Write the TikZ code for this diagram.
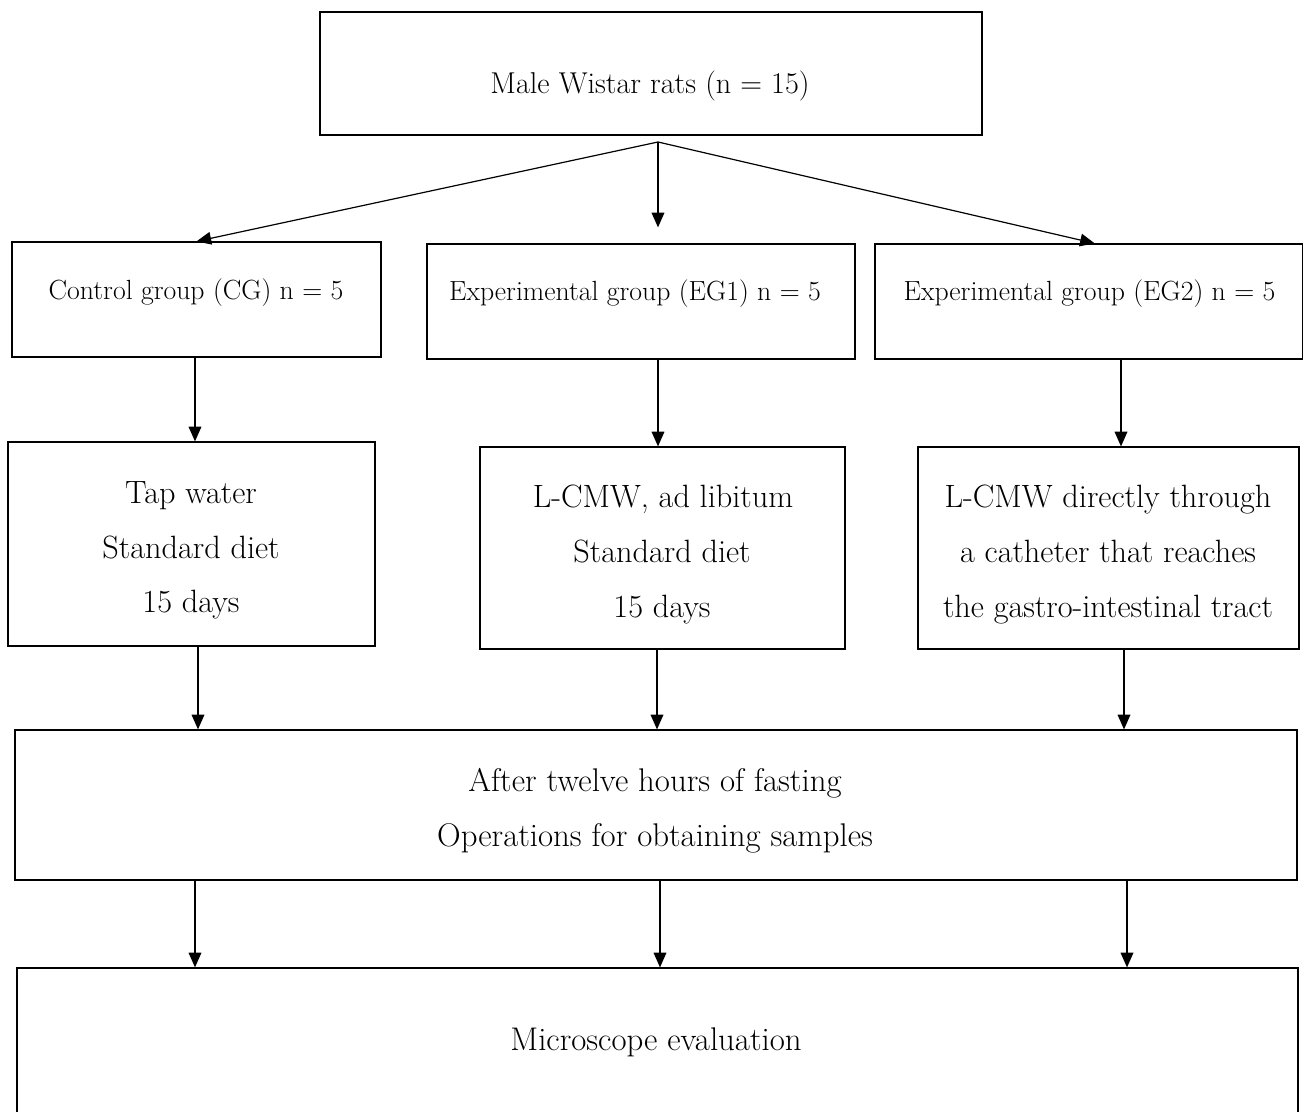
\documentclass[tikz,border=0pt]{standalone}
\usepackage{fontspec}
\setmainfont{Latin Modern Roman}
\usetikzlibrary{arrows.meta,fit,calc}
\begin{document}
\begin{tikzpicture}[x=0.75pt,y=-0.75pt,
  box/.style={draw=black, line width=0.9pt, inner sep=0pt, fill=none},
  arr/.style={draw=black, line width=0.9pt, -{Triangle[length=11pt,width=9.5pt]}},
  ftop/.style={font=\fontsize{22.6}{26}\selectfont, anchor=base, inner sep=0pt},
  fgrp/.style={font=\fontsize{20.8}{25}\selectfont, anchor=base, inner sep=0pt},
  ftrt/.style={font=\fontsize{24.2}{28}\selectfont, anchor=base, inner sep=0pt},
  fbot/.style={font=\fontsize{24.6}{28}\selectfont, anchor=base, inner sep=0pt}]
\useasboundingbox (0,0) rectangle (1304,1112);
% boxes
\node[box, fit={(320,12) (982,135)}] (top) {};
\node[box, fit={(12,242) (381,357)}] (cg) {};
\node[box, fit={(427,244) (855,359)}] (eg1) {};
\node[box, fit={(875,244) (1302.5,359)}] (eg2) {};
\node[box, fit={(8,442) (375,646)}] (t1) {};
\node[box, fit={(480,447) (845,649)}] (t2) {};
\node[box, fit={(918,447) (1299,649)}] (t3) {};
\node[box, fit={(15,730) (1297,880)}] (ops) {};
\node[box, fit={(17,968) (1298,1150)}] (mic) {};
% texts
\node[ftop] (toptx) at (650,94) {Male Wistar rats (n = 15)};
\node[fgrp] (cgtx) at (196,300) {Control group (CG) n = 5};
\node[fgrp] (eg1tx) at (635,301) {Experimental group (EG1) n = 5};
\node[fgrp] (eg2tx) at (1089.5,301) {Experimental group (EG2) n = 5};
\node[ftrt] (t1a) at (191,504) {Tap water};
\node[ftrt] (t1b) at (191,559) {Standard diet};
\node[ftrt] (t1c) at (191,613) {15 days};
\node[ftrt] (t2a) at (663,508) {L-CMW, ad libitum};
\node[ftrt] (t2b) at (662,563) {Standard diet};
\node[ftrt] (t2c) at (662,617) {15 days};
\node[ftrt] (t3a) at (1108,508) {L-CMW directly through};
\node[ftrt] (t3b) at (1108,563) {a catheter that reaches};
\node[ftrt] (t3c) at (1108,617) {the gastro-intestinal tract};
\node[fbot] (opsa) at (655,791) {After twelve hours of fasting};
\node[fbot] (opsb) at (655,846) {Operations for obtaining samples};
\node[fbot] (mictx) at (656,1050) {Microscope evaluation};
% column coordinates
\coordinate (fan) at (658,142);
\coordinate (xa1) at (195,0);
\coordinate (xa2) at (658,0);
\coordinate (xa3) at (1121,0);
\coordinate (xb1) at (198,0);
\coordinate (xb2) at (657,0);
\coordinate (xb3) at (1124,0);
\coordinate (xc1) at (195,0);
\coordinate (xc2) at (660,0);
\coordinate (xc3) at (1127,0);
% connectors
\draw[arr] (fan) -- (cg.north);
\draw[arr] (fan) -- ([yshift=12pt]eg1.north -| fan);
\draw[arr] (fan) -- ([xshift=4.5pt]eg2.north);
\draw[arr] (cg.south -| xa1) -- (t1.north -| xa1);
\draw[arr] (eg1.south -| xa2) -- (t2.north -| xa2);
\draw[arr] (eg2.south -| xa3) -- (t3.north -| xa3);
\draw[arr] (t1.south -| xb1) -- (ops.north -| xb1);
\draw[arr] (t2.south -| xb2) -- (ops.north -| xb2);
\draw[arr] (t3.south -| xb3) -- (ops.north -| xb3);
\draw[arr] (ops.south -| xc1) -- (mic.north -| xc1);
\draw[arr] (ops.south -| xc2) -- (mic.north -| xc2);
\draw[arr] (ops.south -| xc3) -- (mic.north -| xc3);
\end{tikzpicture}
\end{document}
